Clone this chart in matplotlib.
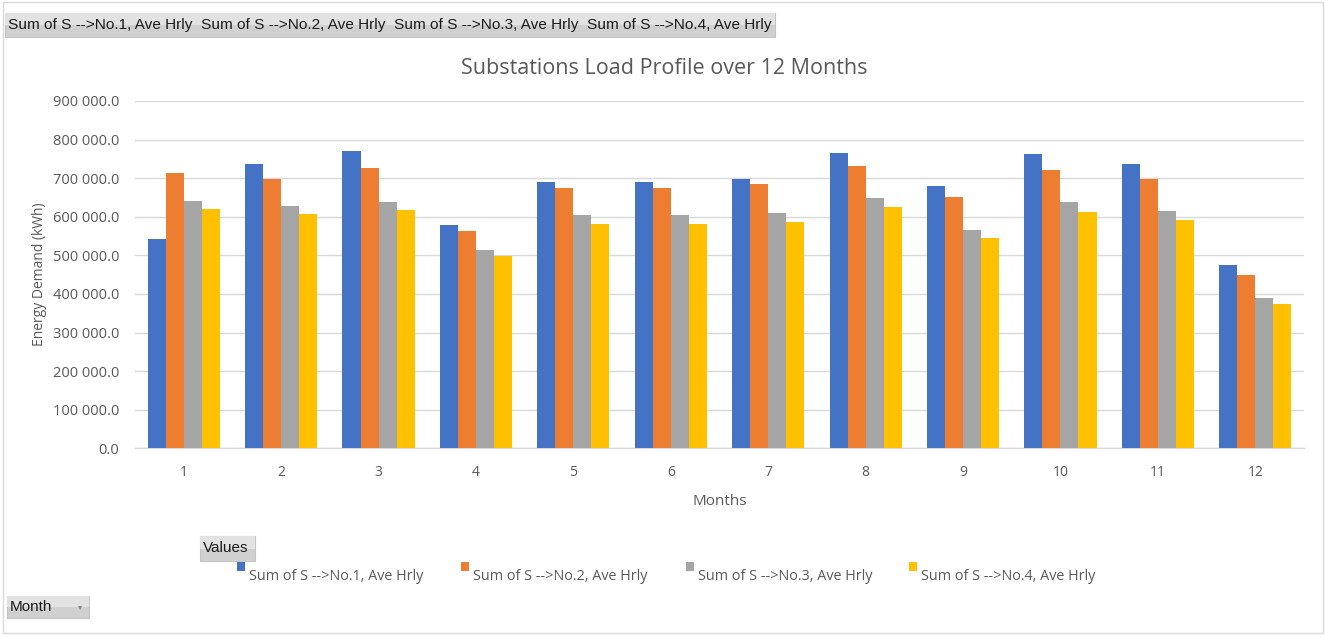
import matplotlib
matplotlib.use("Agg")
import matplotlib.pyplot as plt
import numpy as np
from matplotlib.patches import Rectangle

months = [str(m) for m in range(1, 13)]
series_names = ["Sum of S -->No.1, Ave Hrly", "Sum of S -->No.2, Ave Hrly",
                "Sum of S -->No.3, Ave Hrly", "Sum of S -->No.4, Ave Hrly"]
s1 = [542000, 737000, 771000, 579000, 690000, 690000, 698000, 766000, 681000, 762000, 736000, 475000]
s2 = [713000, 697000, 727000, 564000, 674000, 674000, 685000, 732000, 650000, 721000, 697000, 449000]
s3 = [641000, 628000, 638000, 513000, 604000, 604000, 609000, 649000, 566000, 638000, 615000, 390000]
s4 = [620000, 607000, 617000, 498000, 581000, 582000, 587000, 626000, 546000, 612000, 591000, 374000]
series = [s1, s2, s3, s4]
colors = ["#4472C4", "#ED7D31", "#A5A5A5", "#FFC000"]

FONT = ["Open Sans", "DejaVu Sans"]
NARROW = ["Liberation Sans Narrow", "Liberation Sans", "DejaVu Sans"]
GREY = "#595959"

fig = plt.figure(figsize=(13.25, 6.37), dpi=100)
W, H = 1325, 637

def fx(px):
    return px / W

def fy(py):
    return 1 - py / H

ax = fig.add_axes([fx(135), fy(448.3), fx(1304) - fx(135), fy(101) - fy(448.3)])

x = np.arange(len(months))
bw = 0.185
offsets = (np.arange(4) - 1.5) * bw
bars = []
for i, (vals, col) in enumerate(zip(series, colors)):
    b = ax.bar(x + offsets[i], vals, width=bw, color=col, edgecolor="none", zorder=3)
    bars.append(b)

ax.set_xlim(-0.5, len(months) - 0.5)
ax.set_ylim(0, 900000)
ax.set_yticks(np.arange(0, 900001, 100000))
ax.set_yticklabels([f"{v:,.1f}".replace(",", " ") for v in np.arange(0, 900001, 100000)],
                   fontfamily=FONT, fontsize=10.5, color=GREY)
ax.set_xticks(x)
ax.set_xticklabels(months, fontfamily=FONT, fontsize=10, color=GREY)
ax.tick_params(axis="x", length=0, pad=12)
ax.tick_params(axis="y", length=0, pad=11.5)
ax.yaxis.grid(True, color="#D9D9D9", linewidth=1, zorder=0)
for sp in ["top", "right", "left"]:
    ax.spines[sp].set_visible(False)
ax.spines["bottom"].set_color("#D9D9D9")
ax.spines["bottom"].set_linewidth(1)

ax.set_ylabel("Energy Demand (kWh)", fontfamily=FONT, fontsize=10, color=GREY, labelpad=4)
ax.set_xlabel("Months", fontfamily=FONT, fontsize=11, color=GREY, labelpad=10)

fig.text(fx(664), fy(69), "Substations Load Profile over 12 Months", ha="center", va="center",
         fontfamily=FONT, fontsize=15.5, color=GREY)

# outer border
fig.add_artist(Rectangle((fx(3), fy(633)), fx(1320), fy(2) - fy(633), transform=fig.transFigure,
                         fill=False, edgecolor="#D9D9D9", linewidth=1))

# pivot field buttons
def button(x0, y0, x1, y1, text, fs=10.5, arrow=False):
    fig.add_artist(Rectangle((fx(x0), fy(y1)), fx(x1 - x0), fy(y0) - fy(y1),
                             transform=fig.transFigure, facecolor="#D0D0D0",
                             edgecolor="#C4C4C4", linewidth=0.8))
    fig.add_artist(Rectangle((fx(x0), fy((y0 + y1) / 2)), fx(x1 - x0), fy(y0) - fy((y0 + y1) / 2),
                             transform=fig.transFigure, facecolor="#E2E2E2",
                             edgecolor="none"))
    fig.text(fx(x0 + 3), fy((y0 + y1) / 2), text, ha="left", va="center",
             fontfamily=NARROW, fontsize=fs, color="#1a1a1a")
    if arrow:
        fig.text(fx(x1 - 9), fy((y0 + y1) / 2), "▾", ha="center", va="center",
                 fontsize=6, color="#888888")

button(5, 13, 775, 37, "  ".join(series_names), fs=11.05)
button(200, 536, 255, 561, "Values", fs=11)
button(7, 596, 89, 618, "Month", fs=11, arrow=True)

# legend
leg_x = [237, 461, 686, 909]
for lx, name, b in zip(leg_x, series_names, bars):
    col = b.patches[0].get_facecolor()
    fig.add_artist(Rectangle((fx(lx), fy(571)), fx(8), fy(562) - fy(571),
                             transform=fig.transFigure, facecolor=col, edgecolor="none"))
    fig.text(fx(lx + 12), fy(577), name, ha="left", va="center",
             fontfamily=FONT, fontsize=10.4, color=GREY)

fig.savefig("out.png", dpi=100)
